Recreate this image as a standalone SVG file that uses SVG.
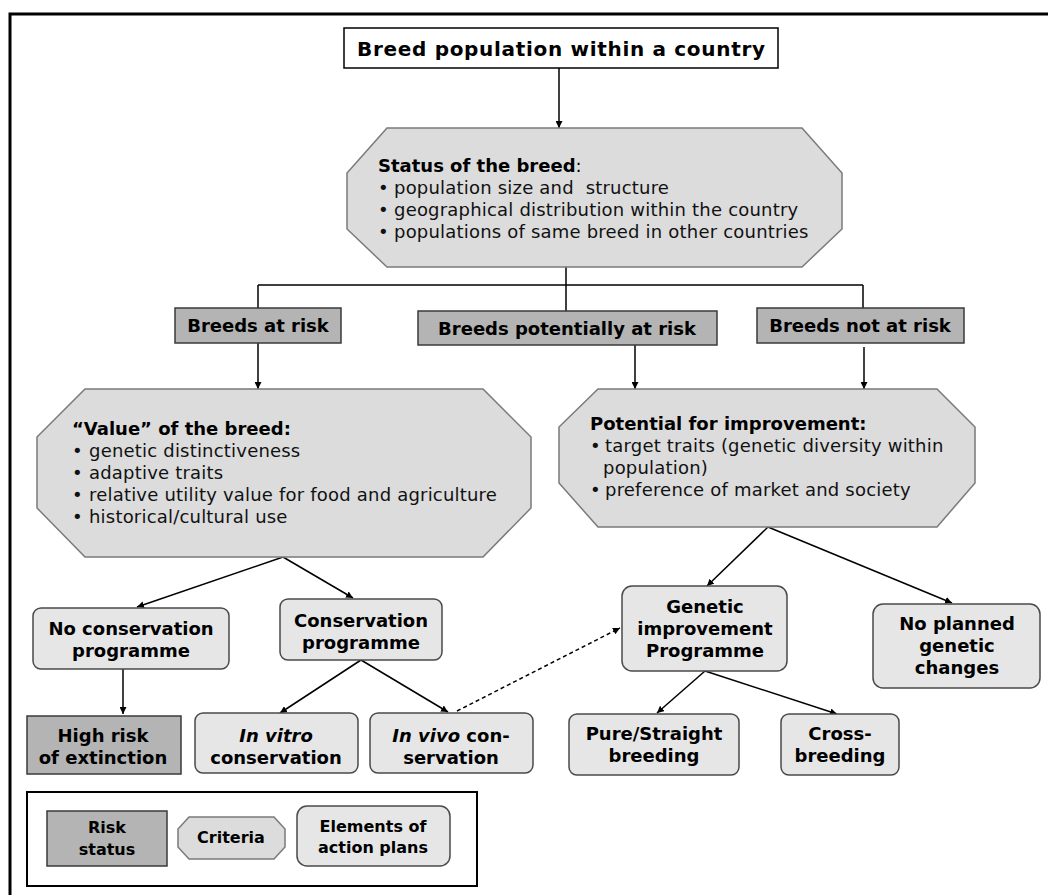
<svg xmlns="http://www.w3.org/2000/svg" width="1048" height="895" viewBox="0 0 1048 895">
<defs>
<marker id="ah" viewBox="0 0 10 10" refX="10" refY="5" markerWidth="7" markerHeight="7" markerUnits="userSpaceOnUse" orient="auto">
<path d="M0,0 L10,5 L0,10 z" fill="#000"/>
</marker>
<style>
text{font-family:"DejaVu Sans","Liberation Sans",sans-serif;fill:#000;}
.b{font-weight:bold;font-size:18px;}
.c{text-anchor:middle;}
.r{font-size:18px;letter-spacing:0.2px;fill:#111;}
.l{font-weight:bold;font-size:16px;text-anchor:middle;}
.risk{fill:#b4b4b4;stroke:#3a3a3a;stroke-width:1.5;}
.crit{fill:#dcdcdc;stroke:#7a7a7a;stroke-width:1.5;}
.elem{fill:#e6e6e6;stroke:#4a4a4a;stroke-width:1.5;}
.ln{stroke:#000;stroke-width:1.5;fill:none;}
.ar{stroke:#000;stroke-width:1.5;fill:none;marker-end:url(#ah);}
.pre{white-space:pre;}
</style>
</defs>
<rect width="1048" height="895" fill="#fff"/>
<path d="M10,895 V14 H1048" fill="none" stroke="#000" stroke-width="3"/>

<g id="connectors">
<line class="ar" x1="559" y1="68" x2="559" y2="128"/>
<line class="ln" x1="566" y1="267" x2="566" y2="311"/>
<line class="ln" x1="258" y1="285" x2="863" y2="285"/>
<line class="ln" x1="258" y1="285" x2="258" y2="308"/>
<line class="ln" x1="863" y1="285" x2="863" y2="308"/>
<line class="ar" x1="258" y1="343" x2="258" y2="389"/>
<line class="ar" x1="635" y1="345" x2="635" y2="389"/>
<line class="ar" x1="864" y1="347" x2="864" y2="389"/>
<line class="ar" x1="283" y1="557" x2="137" y2="607"/>
<line class="ar" x1="283" y1="557" x2="353" y2="598"/>
<line class="ar" x1="768" y1="527" x2="707" y2="586"/>
<line class="ar" x1="768" y1="527" x2="952" y2="603"/>
<line class="ar" x1="123" y1="669" x2="123" y2="714"/>
<line class="ar" x1="361" y1="660" x2="280" y2="713"/>
<line class="ar" x1="361" y1="660" x2="448" y2="712"/>
<line class="ar" x1="457" y1="711" x2="620" y2="628" stroke-dasharray="4,3"/>
<line class="ar" x1="705" y1="671" x2="657" y2="713"/>
<line class="ar" x1="705" y1="671" x2="837" y2="714"/>
</g>

<g id="n-top">
<rect x="344" y="28" width="434" height="40" fill="#fff" stroke="#000" stroke-width="1.5"/>
<text x="357" y="56" font-weight="bold" font-size="20" textLength="408" lengthAdjust="spacing">Breed population within a country</text>
</g>

<g id="n-status">
<polygon class="crit" points="387,128 802,128 842,173 842,229 802,267 387,267 347,229 347,173"/>
<text class="b" x="378" y="172">Status of the breed<tspan style="font-weight:normal">:</tspan></text>
<text class="r" x="378" y="194">•</text><text class="r pre" x="394" y="194">population size and  structure</text>
<text class="r" x="378" y="216">•</text><text class="r" x="394" y="216">geographical distribution within the country</text>
<text class="r" x="378" y="238">•</text><text class="r" x="394" y="238">populations of same breed in other countries</text>
</g>

<g id="n-atrisk">
<rect class="risk" x="175" y="308" width="166" height="35"/>
<text class="b c" x="258" y="332">Breeds at risk</text>
</g>
<g id="n-potrisk">
<rect class="risk" x="418" y="311" width="299" height="34"/>
<text class="b c" x="567" y="335">Breeds potentially at risk</text>
</g>
<g id="n-notrisk">
<rect class="risk" x="757" y="308" width="207" height="35"/>
<text class="b c" x="860" y="332">Breeds not at risk</text>
</g>

<g id="n-value">
<polygon class="crit" points="85,389 483,389 531,437 531,508 483,557 85,557 37,508 37,437"/>
<text class="b" x="72" y="435">“Value” of the breed:</text>
<text class="r" x="72" y="457">•</text><text class="r" x="89" y="457">genetic distinctiveness</text>
<text class="r" x="72" y="479">•</text><text class="r" x="89" y="479">adaptive traits</text>
<text class="r" x="72" y="501">•</text><text class="r" x="89" y="501">relative utility value for food and agriculture</text>
<text class="r" x="72" y="523">•</text><text class="r" x="89" y="523">historical/cultural use</text>
</g>

<g id="n-potential">
<polygon class="crit" points="598,389 937,389 975,427 975,483 937,527 598,527 559,483 559,427"/>
<text class="b" x="590" y="430">Potential for improvement:</text>
<text class="r" x="590" y="452">•</text><text class="r" x="605" y="452">target traits (genetic diversity within</text>
<text class="r" x="603" y="474">population)</text>
<text class="r" x="590" y="496">•</text><text class="r" x="605" y="496">preference of market and society</text>
</g>

<g id="n-nocons">
<rect class="elem" x="33" y="608" width="196" height="61" rx="8"/>
<text class="b c" x="131" y="635">No conservation</text>
<text class="b c" x="131" y="657">programme</text>
</g>
<g id="n-cons">
<rect class="elem" x="280" y="599" width="162" height="61" rx="8"/>
<text class="b c" x="361" y="627">Conservation</text>
<text class="b c" x="361" y="649">programme</text>
</g>
<g id="n-genetic">
<rect class="elem" x="622" y="586" width="165" height="85" rx="10"/>
<text class="b c" x="705" y="613">Genetic</text>
<text class="b c" x="705" y="635">improvement</text>
<text class="b c" x="705" y="657">Programme</text>
</g>
<g id="n-noplanned">
<rect class="elem" x="873" y="604" width="167" height="84" rx="10"/>
<text class="b c" x="957" y="630">No planned</text>
<text class="b c" x="957" y="652">genetic</text>
<text class="b c" x="957" y="674">changes</text>
</g>
<g id="n-highrisk">
<rect class="risk" x="27" y="716" width="154" height="58"/>
<text class="b c" x="103" y="742">High risk</text>
<text class="b c" x="103" y="764">of extinction</text>
</g>
<g id="n-invitro">
<rect class="elem" x="195" y="713" width="163" height="60" rx="8"/>
<text class="b c" x="276" y="742" font-style="italic">In vitro</text>
<text class="b c" x="276" y="764">conservation</text>
</g>
<g id="n-invivo">
<rect class="elem" x="370" y="713" width="163" height="60" rx="8"/>
<text class="b c pre" x="451" y="742"><tspan font-style="italic">In vivo</tspan> con-</text>
<text class="b c" x="451" y="764">servation</text>
</g>
<g id="n-pure">
<rect class="elem" x="569" y="714" width="170" height="61" rx="8"/>
<text class="b c" x="654" y="740">Pure/Straight</text>
<text class="b c" x="654" y="762">breeding</text>
</g>
<g id="n-cross">
<rect class="elem" x="781" y="714" width="118" height="61" rx="8"/>
<text class="b c" x="840" y="740">Cross-</text>
<text class="b c" x="840" y="762">breeding</text>
</g>

<g id="legend">
<rect x="27" y="792" width="450" height="94" fill="none" stroke="#000" stroke-width="2"/>
<rect class="risk" x="47" y="811" width="120" height="55"/>
<text class="l" x="107" y="833">Risk</text>
<text class="l" x="107" y="855">status</text>
<polygon class="crit" points="189,817 274,817 285,829 285,847 274,859 189,859 178,847 178,829"/>
<text class="l" x="231" y="843">Criteria</text>
<rect class="elem" x="297" y="806" width="153" height="60" rx="10"/>
<text class="l" x="373" y="832">Elements of</text>
<text class="l" x="373" y="853">action plans</text>
</g>
</svg>
